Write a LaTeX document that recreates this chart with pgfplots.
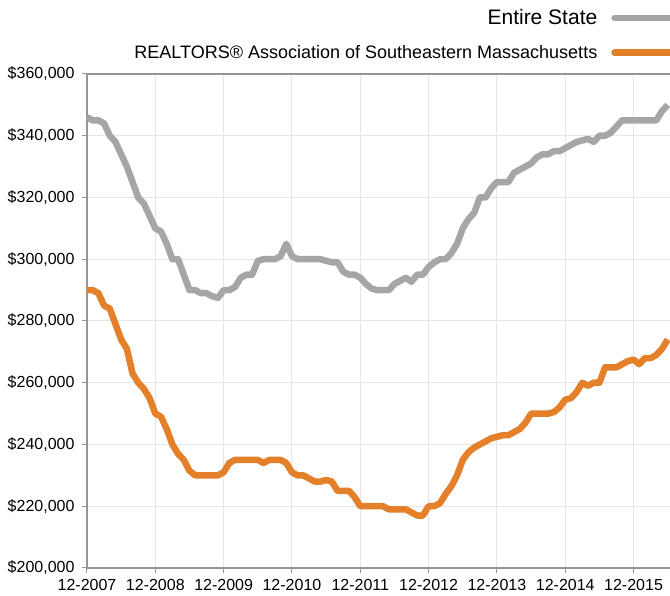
\documentclass[border=0pt]{standalone}
\usepackage{fontspec}
\setmainfont{Liberation Sans}
\usepackage{pgfplots}
\pgfplotsset{compat=1.18}
\definecolor{grayline}{RGB}{166,166,166}
\definecolor{orangeline}{RGB}{228,128,42}
\definecolor{gridc}{RGB}{230,230,230}
\definecolor{axisc}{RGB}{150,150,150}
\pgfplotstableread{
x y
0 346000
1 345000
2 345000
3 344000
4 340000
5 338000
6 334000
7 330000
8 325000
9 320000
10 318000
11 314000
12 310000
13 309000
14 305000
15 300000
16 300000
17 295000
18 290000
19 290000
20 289000
21 289000
22 288000
23 287500
24 290000
25 290000
26 291000
27 294000
28 295000
29 295000
30 299500
31 300000
32 300000
33 300000
34 301000
35 305000
36 301000
37 300000
38 300000
39 300000
40 300000
41 300000
42 299500
43 299000
44 299000
45 296000
46 295000
47 295000
48 294000
49 292000
50 290500
51 290000
52 290000
53 290000
54 292000
55 293000
56 294000
57 292700
58 295000
59 295000
60 297500
61 299000
62 300000
63 300000
64 302000
65 305000
66 310000
67 313000
68 315000
69 320000
70 320000
71 323000
72 325000
73 325000
74 325000
75 328000
76 329000
77 330000
78 331000
79 333000
80 334000
81 334000
82 335000
83 335000
84 336000
85 337000
86 338000
87 338500
88 339000
89 338000
90 340000
91 340000
92 341000
93 343000
94 345000
95 345000
96 345000
97 345000
98 345000
99 345000
100 345000
101 348000
102 350000
}\statedata
\pgfplotstableread{
x y
0 290000
1 290000
2 289000
3 285000
4 284000
5 279000
6 274000
7 271000
8 263000
9 260000
10 258000
11 255000
12 250000
13 249000
14 245000
15 240000
16 237000
17 235000
18 231500
19 230000
20 230000
21 230000
22 230000
23 230000
24 231000
25 234000
26 235000
27 235000
28 235000
29 235000
30 235000
31 234000
32 235000
33 235000
34 235000
35 234000
36 231000
37 230000
38 230000
39 229000
40 228000
41 228000
42 228500
43 228000
44 225000
45 225000
46 225000
47 223000
48 220000
49 220000
50 220000
51 220000
52 220000
53 219000
54 219000
55 219000
56 219000
57 218000
58 217000
59 217000
60 220000
61 220000
62 221000
63 224000
64 226500
65 230000
66 235000
67 237500
68 239000
69 240000
70 241000
71 242000
72 242500
73 243000
74 243000
75 244000
76 245000
77 247000
78 250000
79 250000
80 250000
81 250000
82 250500
83 252000
84 254500
85 255000
86 257000
87 260000
88 259000
89 260000
90 260000
91 265000
92 265000
93 265000
94 266000
95 267000
96 267500
97 266000
98 268000
99 268000
100 269000
101 271000
102 274000
}\regiondata
\begin{document}
\begin{tikzpicture}[x=1pt,y=1pt]
\path[use as bounding box] (-87,-28) rectangle (583,568);
\begin{axis}[
  at={(0,0)}, anchor=south west,
  scale only axis, width=583pt, height=494pt,
  xmin=0, xmax=102.4, ymin=200000, ymax=360000,
  scaled ticks=false,
  axis x line*=bottom, axis y line*=left,
  axis line style={axisc, line width=1.3pt},
  xtick={0,12,24,36,48,60,72,84,96},
  xticklabels={12-2007,12-2008,12-2009,12-2010,12-2011,12-2012,12-2013,12-2014,12-2015},
  ytick={200000,220000,240000,260000,280000,300000,320000,340000},
  yticklabels={\$200{,}000,\$220{,}000,\$240{,}000,\$260{,}000,\$280{,}000,\$300{,}000,\$320{,}000,\$340{,}000},
  extra y ticks={360000},
  extra y tick labels={\$360{,}000},
  extra y tick style={major grid style={axisc, line width=1.3pt}},
  grid=major, major grid style={gridc, line width=1pt},
  tick align=outside, major tick length=5pt,
  tick style={axisc, line width=1pt},
  ticklabel style={font=\fontsize{16}{16}\selectfont, text=black},
  xticklabel style={yshift=-5pt, inner sep=1pt},
  yticklabel style={xshift=-4pt},
  legend plot pos=right,
  legend cell align=right,
  legend style={draw=none, fill=none, at={(1,1)}, anchor=south east,
    xshift=6pt, yshift=12pt, row sep=15pt, column sep=12pt, inner sep=0pt},
  legend image code/.code={\draw[#1, line cap=round] (0pt,0pt) -- (58pt,0pt);},
]
\addplot[grayline, line width=6.5pt, line join=round] table[x=x,y=y] {\statedata};
\addlegendentry{\fontsize{21}{21}\selectfont Entire State}
\addplot[orangeline, line width=6.5pt, line join=round] table[x=x,y=y] {\regiondata};
\addlegendentry{\fontsize{18}{18}\selectfont REALTORS® Association of Southeastern Massachusetts}
\end{axis}
\end{tikzpicture}
\end{document}
